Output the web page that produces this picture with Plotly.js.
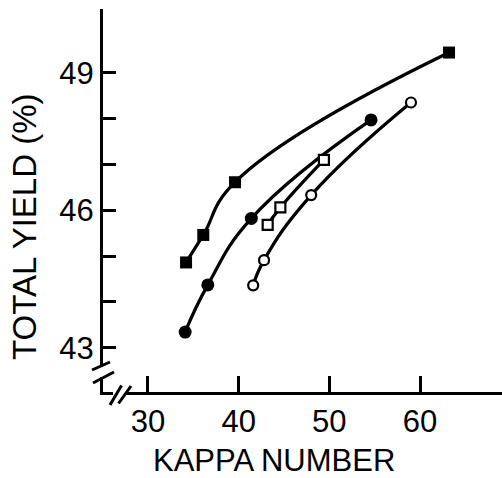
<!DOCTYPE html>
<html>
<head>
<meta charset="utf-8">
<script src="https://cdn.plot.ly/plotly-3.0.1.min.js"></script>
<style>html,body{margin:0;padding:0;background:#fff;}#chart{width:502px;height:478px;}</style>
</head>
<body>
<div id="chart"></div>
<script>
// Data
const filledSquareX = [34.2, 36.1, 39.6, 63.2];
const filledSquareY = [44.86, 45.46, 46.61, 49.44];
const filledCircleX = [34.1, 36.6, 41.4, 54.6];
const filledCircleY = [43.34, 44.37, 45.82, 47.97];
const openSquareX = [43.2, 44.6, 49.4];
const openSquareY = [45.68, 46.06, 47.10];
const openCircleX = [41.6, 42.8, 48.0, 59.0];
const openCircleY = [44.36, 44.91, 46.33, 48.35];

const xTickVals = [30, 40, 50, 60];
const xTickText = ["30", "40", "50", "60"];
const yTickVals = [43, 44, 45, 46, 47, 48, 49];
const yTickText = ["43", "", "", "46", "", "", "49"];

const W = 502, H = 478;
const M = {l: 103, r: 0, t: 9, b: 86};
const pw = W - M.l - M.r, ph = H - M.t - M.b;
const px = v => (v - M.l) / pw;
const py = v => (H - M.b - v) / ph;

const fam = '"Liberation Sans", Arial, sans-serif';
const tickFont = {family: fam, size: 31, color: '#000'};

function tr(x, y, sym, fill, size) {
  return {
    x: x, y: y, type: 'scatter', mode: 'lines+markers',
    line: {color: '#000', width: 3.2, shape: 'spline', smoothing: 1.3},
    marker: {symbol: sym, size: size, color: fill, line: {color: '#000', width: fill === '#fff' ? 2.2 : 0}},
    showlegend: false, hoverinfo: 'skip'
  };
}

const data = [
  tr(filledSquareX, filledSquareY, 'square', '#000', 12),
  tr(filledCircleX, filledCircleY, 'circle', '#000', 13),
  tr(openSquareX, openSquareY, 'square', '#fff', 10),
  tr(openCircleX, openCircleY, 'circle', '#fff', 10)
];

function seg(x0, y0, x1, y1) {
  return {type: 'line', xref: 'paper', yref: 'paper', x0: px(x0), y0: py(y0), x1: px(x1), y1: py(y1),
          line: {color: '#000', width: 3}, layer: 'above'};
}
function gap(x0, y0, x1, y1) {
  return {type: 'rect', xref: 'paper', yref: 'paper', x0: px(x0), y0: py(y0), x1: px(x1), y1: py(y1),
          fillcolor: '#fff', line: {width: 0}, layer: 'above'};
}

const layout = {
  width: W, height: H,
  margin: M,
  paper_bgcolor: '#fff', plot_bgcolor: '#fff',
  xaxis: {
    range: [25.04, 69.04], showgrid: false, zeroline: false,
    showline: true, linecolor: '#000', linewidth: 3,
    ticks: 'inside', ticklen: 16, tickwidth: 3, tickcolor: '#000',
    tickvals: xTickVals, ticktext: xTickText, tickfont: tickFont
  },
  yaxis: {
    range: [42.033, 50.39], showgrid: false, zeroline: false,
    showline: true, linecolor: '#000', linewidth: 3,
    ticks: 'inside', ticklen: 13, tickwidth: 3, tickcolor: '#000',
    tickvals: yTickVals, ticktext: yTickText, tickfont: tickFont
  },
  shapes: [
    gap(96, 367, 108, 377),
    gap(113, 386, 126, 400),
    seg(92, 370, 110, 362),
    seg(93, 383, 114, 372),
    seg(110, 405, 121.5, 385.5),
    seg(118.5, 403.5, 131, 386)
  ],
  annotations: [
    {text: 'TOTAL YIELD (%)', xref: 'paper', yref: 'paper', x: px(25), y: py(227), textangle: -90,
     showarrow: false, font: {family: fam, size: 33, color: '#000'}, xanchor: 'center', yanchor: 'middle'},
    {text: 'KAPPA NUMBER', xref: 'paper', yref: 'paper', x: px(274), y: py(460),
     showarrow: false, font: {family: fam, size: 31, color: '#000'}, xanchor: 'center', yanchor: 'middle'}
  ]
};

Plotly.newPlot('chart', data, layout, {staticPlot: true, displayModeBar: false});
</script>
</body>
</html>
